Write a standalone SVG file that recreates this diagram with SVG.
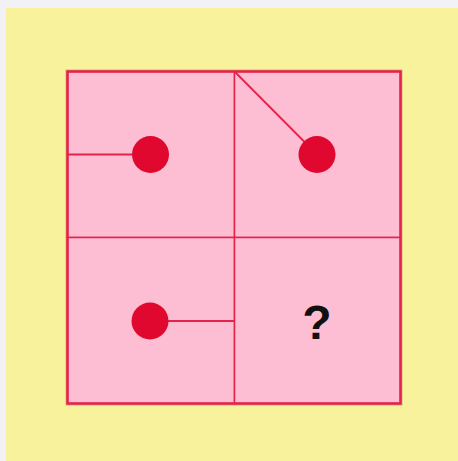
<svg xmlns="http://www.w3.org/2000/svg" width="458" height="461" viewBox="0 0 458 461">
<style>
.cell{fill:#fdbdd3;stroke:#e3234b;stroke-width:1.5}
.link{stroke:#e3234b;stroke-width:1.8;fill:none}
.dot{fill:#e0082f}
.q{font-family:"Liberation Sans",Arial,sans-serif;font-weight:bold;font-size:48px;fill:#111;text-anchor:middle}
</style>
<rect x="0" y="0" width="458" height="461" fill="#f1f1f6"/>
<rect x="6" y="8" width="452" height="453" fill="#f7f29b"/>
<rect x="66" y="70" width="336" height="335" fill="none" stroke="#8a6060" stroke-opacity="0.4" stroke-width="1"/>
<g id="cell-1"><rect class="cell" x="67.5" y="71.5" width="167" height="166"/></g>
<g id="cell-2"><rect class="cell" x="234.5" y="71.5" width="166" height="166"/></g>
<g id="cell-3"><rect class="cell" x="67.5" y="237.5" width="167" height="166"/></g>
<g id="cell-4"><rect class="cell" x="234.5" y="237.5" width="166" height="166"/>
<text class="q" x="317" y="339">?</text></g>
<rect x="67.5" y="71.5" width="333" height="332" fill="none" stroke="#e3234b" stroke-width="2.5"/>
<g id="connectors">
<line class="link" x1="67" y1="154.5" x2="150" y2="154.5"/>
<line class="link" x1="235" y1="72" x2="317" y2="154.5"/>
<line class="link" x1="150" y1="321" x2="234" y2="321"/>
</g>
<g id="dot-1"><circle class="dot" cx="150.5" cy="154.5" r="18.5"/></g>
<g id="dot-2"><circle class="dot" cx="317" cy="154.5" r="18.5"/></g>
<g id="dot-3"><circle class="dot" cx="150" cy="321" r="18.5"/></g>
</svg>
